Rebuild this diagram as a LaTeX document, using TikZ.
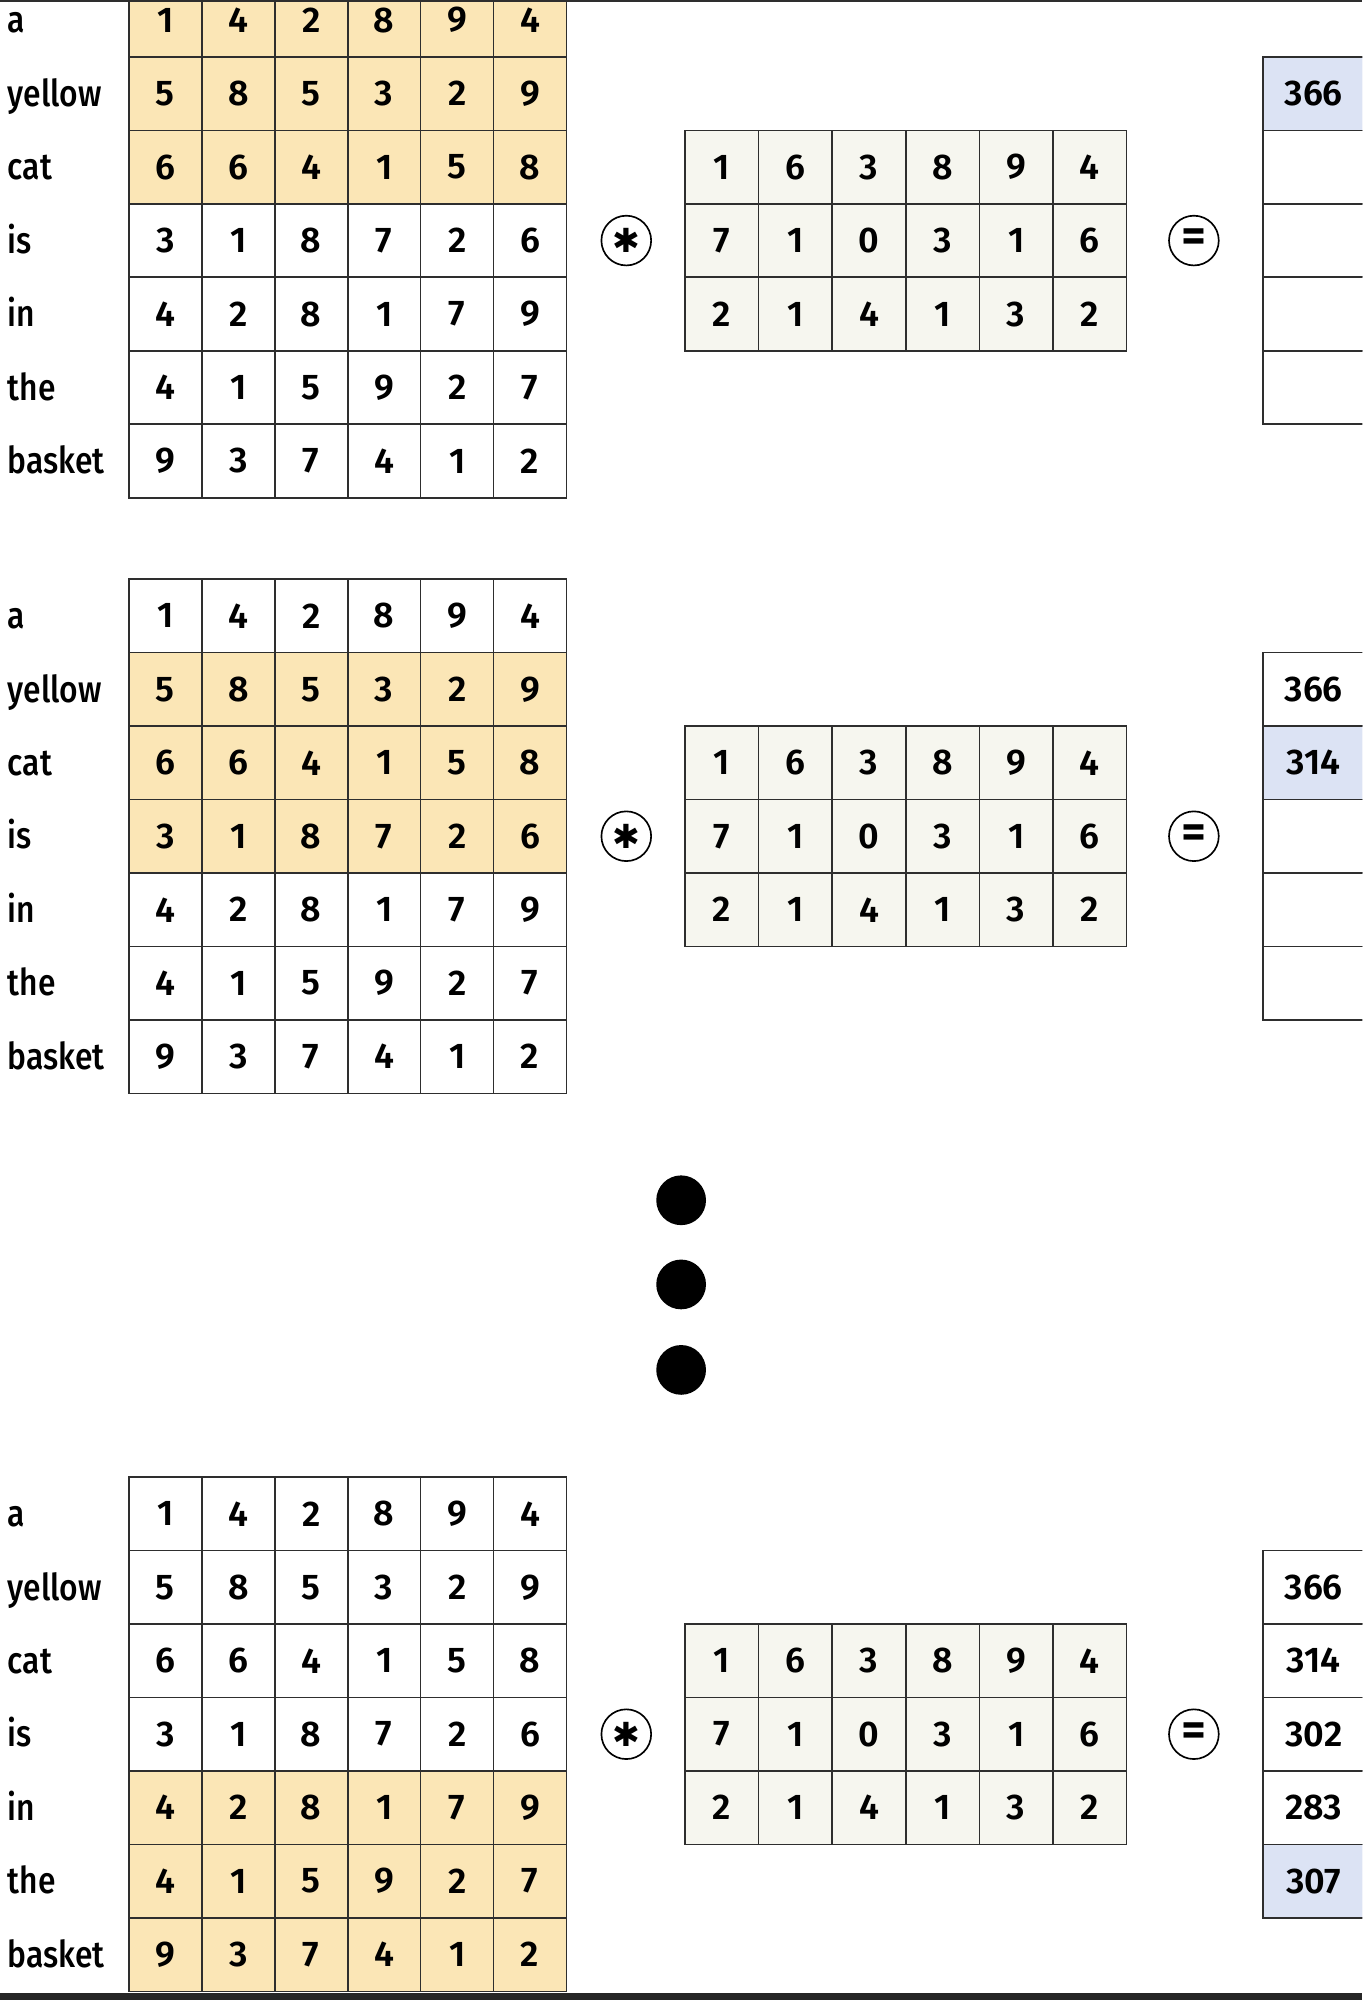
\documentclass[tikz,border=0pt]{standalone}
\usepackage{fontspec}
\setmainfont{Fira Sans}[UprightFont={* Medium}, BoldFont={* SemiBold}]
\newfontfamily\wordfont{Fira Sans}[UprightFont={* Medium}, FakeStretch=0.86]
\newfontfamily\symfont{DejaVu Sans}
\definecolor{hlyellow}{HTML}{FBE6B6}
\definecolor{hlblue}{HTML}{DCE3F4}
\definecolor{kernelbg}{HTML}{F6F6EF}
\definecolor{gridline}{HTML}{2E2E2E}

\tikzset{
  cell/.style={draw=gridline, line width=1.3pt, minimum width=57.2pt, minimum height=57.6pt,
    inner sep=0pt, font=\fontsize{28}{30}\selectfont\bfseries},
  kcell/.style={cell, minimum width=57.7pt, fill=kernelbg},
  rcell/.style={cell, minimum width=80pt},
  word/.style={anchor=base west, inner sep=0pt, font=\fontsize{29}{30}\wordfont},
  op/.style={circle, draw=black, line width=1.3pt, minimum size=39pt, inner sep=0pt},
  dot/.style={circle, fill=black, minimum size=39pt, inner sep=0pt}
}

\begin{document}
\begin{tikzpicture}[x=1pt, y=-1pt]
\useasboundingbox (0,0) rectangle (1068,1568);
\clip (0,0) rectangle (1068,1568);

% three steps: top of the grid, first highlighted row, number of results
\foreach \blk/\tp/\hfrom/\n in {1/-13/0/1, 2/454/1/2, 3/1158/4/5} {
  \pgfmathtruncatemacro\hto{\hfrom+2}
  \pgfmathtruncatemacro\hi{\n-1}
  % embedding table
  \foreach \w/\vals [count=\i from 0] in {a/{1,4,2,8,9,4}, yellow/{5,8,5,3,2,9},
      cat/{6,6,4,1,5,8}, is/{3,1,8,7,2,6}, in/{4,2,8,1,7,9},
      the/{4,1,5,9,2,7}, basket/{9,3,7,4,1,2}} {
    \node [word] (w\blk-\i) at (6, {\tp+57.6*(\i+0.5)+10}) {\w};
    \ifnum\i<\hfrom\relax \def\cfill{white}\else
      \ifnum\i>\hto\relax \def\cfill{white}\else \def\cfill{hlyellow}\fi\fi
    \foreach \v [count=\j from 0] in \vals
      \node [cell, fill=\cfill] (g\blk-\i-\j) at ({101+57.2*(\j+0.5)}, {\tp+57.6*(\i+0.5)}) {\v};
  }
  % filter
  \foreach \krow [count=\i from 0] in {{1,6,3,8,9,4}, {7,1,0,3,1,6}, {2,1,4,1,3,2}}
    \foreach \v [count=\j from 0] in \krow
      \node [kcell] (k\blk-\i-\j) at ({537+57.7*(\j+0.5)}, {\tp+115.2+57.6*(\i+0.5)}) {\v};
  \node [op] (star\blk) at (491, {\tp+201.6}) {\fontsize{26}{26}\symfont ✱};
  \node [op] (eq\blk) at (936, {\tp+201.6}) {\fontsize{38}{38}\selectfont\bfseries =};
  % output column
  \foreach \r [count=\i from 0] in {366,314,302,283,307} {
    \ifnum\i=\hi\relax \def\cfill{hlblue}\else \def\cfill{white}\fi
    \node [rcell, fill=\cfill] (r\blk-\i) at (1030, {\tp+57.6*(\i+1.5)}) {\ifnum\i<\n\relax \r\fi};
  }
}

% dots between the steps
\foreach \y [count=\i] in {941,1007,1074}
  \node [dot] (dot\i) at (534, \y) {};

\draw [gridline, line width=2pt] (0,0.8) -- (1068,0.8);
\fill [black!85] (0,1562.5) rectangle (1068,1568);
\end{tikzpicture}
\end{document}
